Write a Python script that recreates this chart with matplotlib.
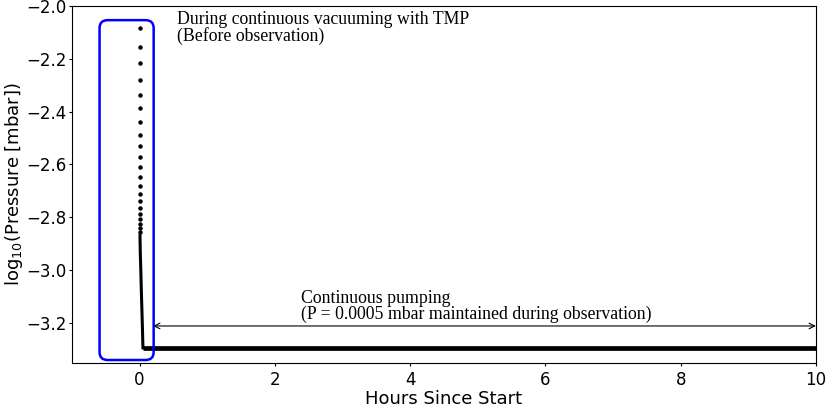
# -*- coding: utf-8 -*-
# Pressure log during pump-down with TMP, then steady pumping over the observation

import numpy as np
import matplotlib.pyplot as plt
from matplotlib.patches import FancyBboxPatch

# --- data ---
# sparse samples right after start (hours, log10 mbar)
sparseHours = [0.000, 0.0003, 0.0006, 0.0008, 0.0011, 0.0014, 0.0017, 0.0019,
               0.0022, 0.0025, 0.0028, 0.0031, 0.0033, 0.0036, 0.0039, 0.0042,
               0.0044, 0.0047, 0.0050, 0.0053, 0.0056]
sparseLogP = [-2.083, -2.155, -2.216, -2.280, -2.337, -2.386, -2.439, -2.489,
              -2.530, -2.572, -2.610, -2.648, -2.682, -2.712, -2.739, -2.765,
              -2.788, -2.807, -2.826, -2.841, -2.856]

# dense part of the pump-down curve
denseHours = [0.006, 0.010, 0.018, 0.026, 0.034, 0.042, 0.048, 0.050]
denseLogP = [-2.87, -2.93, -3.00, -3.08, -3.15, -3.22, -3.28, -3.295]

# plateau during observation
plateauHours = [0.050, 1.0, 2.0, 3.0, 4.0, 5.0, 6.0, 7.0, 8.0, 9.0, 10.0]
plateauLogP = [-3.295, -3.295, -3.295, -3.295, -3.295, -3.295, -3.295,
               -3.295, -3.295, -3.295, -3.295]

xLim = (-1, 10)
yLim = (-3.352, -2.0)
xTicks = [0, 2, 4, 6, 8, 10]
yTicks = [-3.2, -3.0, -2.8, -2.6, -2.4, -2.2, -2.0]

serif = ['Liberation Serif', 'DejaVu Serif']

fig = plt.figure(figsize=(8.3, 4.11), dpi=100)
ax = fig.add_axes([0.0867, 0.117, 0.8963, 0.868])

ax.plot(sparseHours, sparseLogP, 'o', color='black', markersize=2.2, zorder=3)
ax.plot(denseHours, denseLogP, '-', color='black', linewidth=2.2, zorder=3)
ax.plot(plateauHours, plateauLogP, '-', color='black', linewidth=3.4,
        solid_capstyle='butt', zorder=3)

# rounded box around the pump-down phase
box = FancyBboxPatch((-0.592, -3.341), 0.80, 1.288,
                     boxstyle='round,pad=0,rounding_size=0.12',
                     mutation_aspect=0.25,
                     facecolor='none', edgecolor='#0000ff', linewidth=1.8,
                     zorder=4)
ax.add_patch(box)

ax.text(0.55, -2.02, 'During continuous vacuuming with TMP\n(Before observation)',
        family=serif, fontsize=12.8, va='top', ha='left', linespacing=0.9)

# double arrow for the observation period
ax.annotate('', xy=(10.0, -3.212), xytext=(0.2, -3.212),
            arrowprops=dict(arrowstyle='<->', color='black', linewidth=0.8,
                            shrinkA=0, shrinkB=0))
ax.text(2.38, -3.202, 'Continuous pumping\n(P = 0.0005 mbar maintained during observation)',
        family=serif, fontsize=12.8, va='bottom', ha='left', linespacing=0.9)

ax.set_xlim(xLim)
ax.set_ylim(yLim)
ax.set_xticks(xTicks)
ax.set_yticks(yTicks)
ax.tick_params(labelsize=12, length=2.5)
ax.tick_params(axis='y', pad=1.5)
ax.tick_params(axis='x', pad=3)
ax.set_xlabel('Hours Since Start', fontsize=13, labelpad=1)
ax.set_ylabel('log$_{10}$(Pressure [mbar])', fontsize=13)
ax.yaxis.set_label_coords(-0.063, 0.5)

plt.savefig('out.png', dpi=100)
